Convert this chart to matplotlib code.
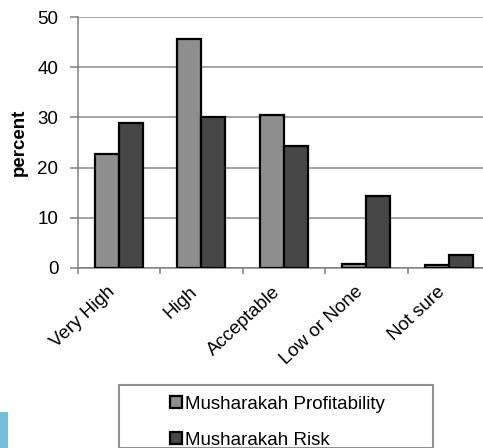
import matplotlib
matplotlib.use("Agg")
import matplotlib.pyplot as plt
import matplotlib.transforms as mtransforms
import numpy as np
from matplotlib.patches import Rectangle

categories = ["Very High", "High", "Acceptable", "Low or None", "Not sure"]
profitability = [22.8, 45.7, 30.4, 0.8, 0.5]
risk = [28.8, 30.0, 24.4, 14.4, 2.5]
series_names = ["Musharakah Profitability", "Musharakah Risk"]
yticks = [0, 10, 20, 30, 40, 50]

plt.rcParams['font.family'] = ['Liberation Sans', 'DejaVu Sans']

W, H = 483, 448
fig = plt.figure(figsize=(W / 100, H / 100), dpi=100)
x0, x1 = 77.7, 490.0
y0, y1 = 268.0, 17.0
ax = fig.add_axes([x0 / W, 1 - y0 / H, (x1 - x0) / W, (y0 - y1) / H])

x = np.arange(len(categories))
bw = 0.29
ax.bar(x - bw / 2, profitability, bw, color="#8e8e8e", edgecolor="black", linewidth=1.6,
       label=series_names[0], zorder=3)
ax.bar(x + bw / 2, risk, bw, color="#474747", edgecolor="black", linewidth=1.6,
       label=series_names[1], zorder=3)

ax.set_xlim(-0.5, len(categories) - 0.5)
ax.set_ylim(0, 50)
ax.set_yticks(yticks)
ax.yaxis.grid(True, color="#8a8a8a", linewidth=1.1, zorder=0)
ax.set_axisbelow(True)
for s in ["top", "right"]:
    ax.spines[s].set_visible(False)
for s in ["left", "bottom"]:
    ax.spines[s].set_color("#808080")
    ax.spines[s].set_linewidth(1.1)

# category labels (rotated, offset like the original)
ax.set_xticks([])
offset = mtransforms.ScaledTranslation(-12 / 100, -15 / 100, fig.dpi_scale_trans)
trans = ax.get_xaxis_transform() + offset
for xi, cat in zip(x, categories):
    ax.text(xi, 0, cat, transform=trans, rotation=43, ha="right", va="top",
            rotation_mode="anchor", fontsize=13.5, clip_on=False)
ax.set_xticks(np.arange(len(categories) + 1) - 0.5, minor=True)
ax.tick_params(axis="x", which="minor", length=4, color="#808080", width=1.1)
ax.tick_params(axis="y", length=6, color="#808080", width=1.1, labelsize=13.5, pad=8, direction="out")
ax.set_ylabel("percent", fontsize=13.5, fontweight="bold", labelpad=6.5)

# legend frame
fig.patches.append(Rectangle((119 / W, 0), (433 - 119) / W, 1 - 385 / H, transform=fig.transFigure,
                             fill=False, edgecolor="#909090", linewidth=1.5))
handles, labels = ax.get_legend_handles_labels()
leg = fig.legend(handles, labels, loc="upper left", bbox_to_anchor=(170 / W, 1 - 396 / H),
                 frameon=False, fontsize=13.5, handlelength=0.65, handleheight=0.6,
                 handletextpad=0.15, labelspacing=1.0, borderaxespad=0, borderpad=0)

# blue side tab
fig.patches.append(Rectangle((0, 0), 8 / W, (448 - 412) / H, transform=fig.transFigure,
                             facecolor="#74bcd8", edgecolor="none"))

fig.savefig("out.png", dpi=100)
